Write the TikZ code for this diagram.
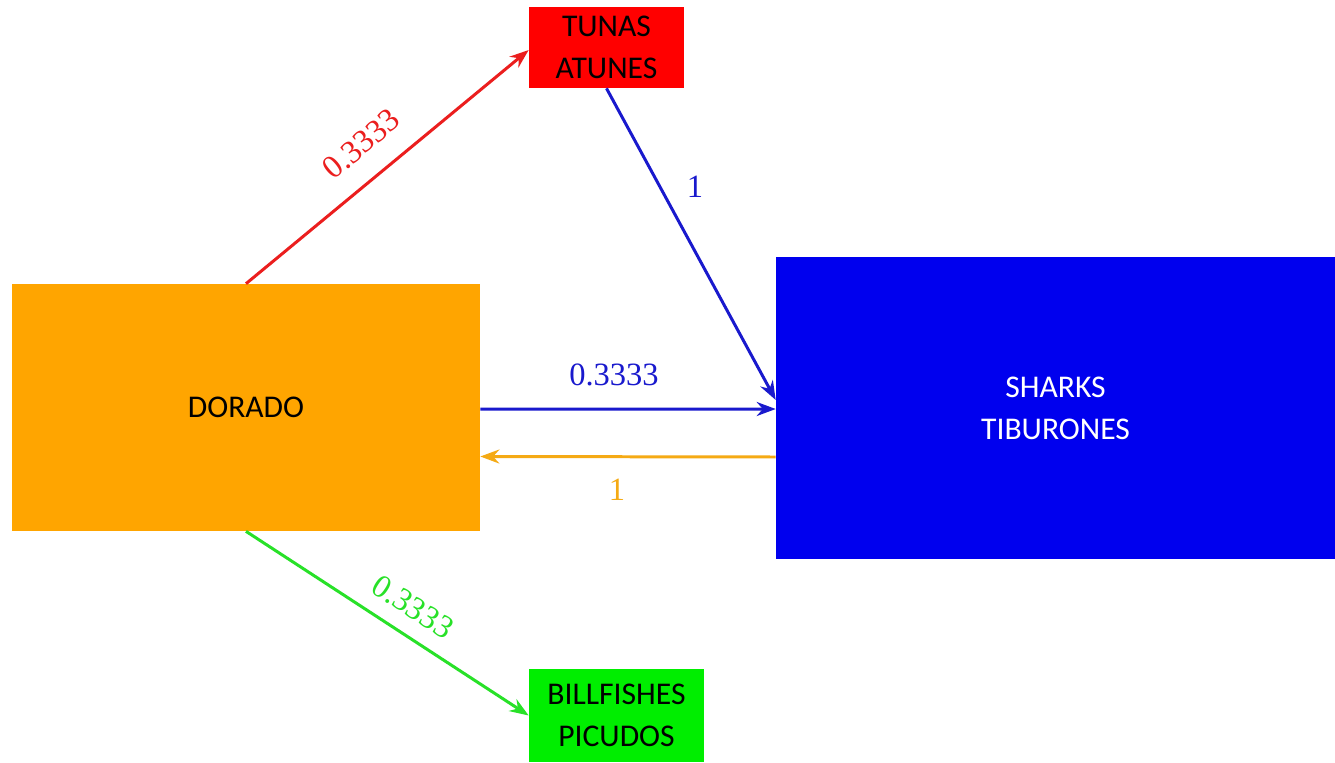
\documentclass[tikz,border=0pt]{standalone}
\usepackage{fontspec}
\setmainfont{Liberation Serif}
\newfontfamily\boxfont{Carlito}
\usetikzlibrary{arrows.meta,positioning}
\definecolor{cOrange}{RGB}{255,165,0}
\definecolor{cRed}{RGB}{255,0,0}
\definecolor{cBlue}{RGB}{0,0,238}
\definecolor{cGreen}{RGB}{0,238,0}
\definecolor{aRed}{RGB}{235,30,30}
\definecolor{aBlue}{RGB}{25,25,205}
\definecolor{aOrange}{RGB}{245,170,20}
\definecolor{aGreen}{RGB}{40,225,40}
\tikzset{
  boxnode/.style={rectangle, inner sep=0pt, align=center, font=\boxfont\fontsize{18}{24}\selectfont},
  conn/.style={line width=1.7pt, -{Stealth[length=0.38cm,width=0.28cm]}},
  wlabel/.style={font=\fontsize{18.5}{20}\selectfont, inner sep=0pt}
}
\begin{document}
\begin{tikzpicture}[x=0.02cm,y=-0.02cm]
\useasboundingbox[fill=white] (0,0) rectangle (1335,762);
\node[boxnode, fill=cRed, text=black, minimum width=3.1cm, minimum height=1.62cm] (tunas) at (606.5,47.5) {TUNAS\\ATUNES};
\node[boxnode, fill=cOrange, text=black, minimum width=9.36cm, minimum height=4.94cm] (dorado) at (246,407.5) {DORADO};
\node[boxnode, fill=cBlue, text=white, minimum width=11.18cm, minimum height=6.04cm] (sharks) at (1055.5,408) {SHARKS\\TIBURONES};
\node[boxnode, fill=cGreen, text=black, minimum width=3.5cm, minimum height=1.86cm] (bill) at (616.5,715.5) {BILLFISHES\\PICUDOS};

\draw[conn, aRed] (dorado.north) -- ([yshift=-0.05cm]tunas.west);
\draw[conn, aBlue] (tunas.south) -- ([yshift=0.16cm]sharks.west);
\draw[conn, aBlue] ([yshift=-0.03cm]dorado.east) -- ([yshift=-0.02cm]sharks.west);
\draw[conn, aOrange] ([yshift=-0.98cm]sharks.west) -- ([yshift=-0.98cm]dorado.east);
\draw[conn, aGreen] (dorado.south) -- (bill.west);

\node[wlabel, text=aRed, rotate=40] (l1) at (361,144) {0.3333};
\node[wlabel, text=aBlue] (l2) at (695,187) {1};
\node[wlabel, text=aBlue] (l3) at (614,375) {0.3333};
\node[wlabel, text=aOrange] (l4) at (617,490) {1};
\node[wlabel, text=aGreen, rotate=-33] (l5) at (413,607) {0.3333};
\end{tikzpicture}
\end{document}
